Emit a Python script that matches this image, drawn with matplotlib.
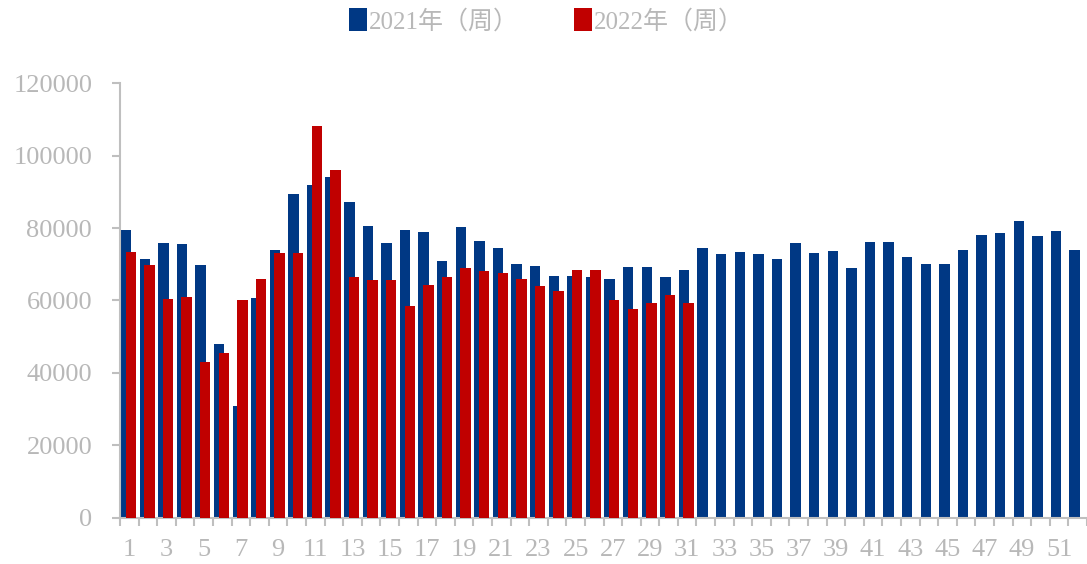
import numpy as np
import matplotlib.pyplot as plt

# 周度数据
weeks = np.arange(1, 53)
y2021 = [79400, 71400, 76000, 75600, 69900, 48100, 31000, 60600, 73900, 89400,
         91900, 94000, 87300, 80600, 76000, 79400, 79000, 71000, 80300, 76500,
         74400, 70200, 69400, 66800, 66800, 66400, 65900, 69300, 69300, 66500,
         68500, 74400, 72700, 73500, 72700, 71500, 76000, 73200, 73600, 69100,
         76100, 76100, 71900, 70200, 70200, 74000, 78200, 78600, 81900, 77800,
         79100, 74000]
y2022 = [73500, 69800, 60500, 61000, 43000, 45500, 60100, 66000, 73100, 73100,
         108200, 96000, 66400, 65600, 65600, 58500, 64400, 66400, 69000, 68100,
         67700, 66000, 63900, 62700, 68400, 68400, 60200, 57700, 59300, 61400,
         59300]
labels = ['2021年（周）', '2022年（周）']

blue = '#003884'
red = '#c00000'
grey = '#bfbfbf'
txt = '#b8b8b8'

fig = plt.figure(figsize=(10.87, 5.64), dpi=100)
ax = fig.add_axes([0.1104, 0.0816, 0.8896, 0.7712])

w = 0.56
ax.bar(weeks - 0.17, y2021, width=w, color=blue, label=labels[0], zorder=2)
ax.bar(weeks[:len(y2022)] + 0.08, y2022, width=w, color=red, label=labels[1], zorder=3)

ax.set_xlim(0.5, 52.5)
ax.set_ylim(0, 120000)
ax.set_yticks(np.arange(0, 120001, 20000))

for s in ['top', 'right']:
    ax.spines[s].set_visible(False)
for s in ['left', 'bottom']:
    ax.spines[s].set_color(grey)
    ax.spines[s].set_linewidth(1.5)

ax.set_xticks(weeks[::2])
ax.set_xticklabels([str(i) for i in weeks[::2]])
ax.set_xticks(np.arange(0.5, 53, 1), minor=True)
ax.tick_params(axis='x', which='major', length=0, pad=15)
ax.tick_params(axis='x', which='minor', length=6, width=1.5, color=grey)
ax.tick_params(axis='y', length=6, width=1.5, color=grey, pad=14)
for t in ax.get_xticklabels() + ax.get_yticklabels():
    t.set_fontfamily('Liberation Serif')
    t.set_fontsize(19)
    t.set_color(txt)

leg = fig.legend(loc='upper center', bbox_to_anchor=(0.503, 1.025), ncol=2, frameon=False,
                 handlelength=0.7, handleheight=1.0, handletextpad=0.1, columnspacing=2.2,
                 prop={'family': ['Liberation Serif', 'Noto Sans CJK SC'], 'size': 18})
for t in leg.get_texts():
    t.set_color(txt)

fig.savefig('out.png', dpi=100)
